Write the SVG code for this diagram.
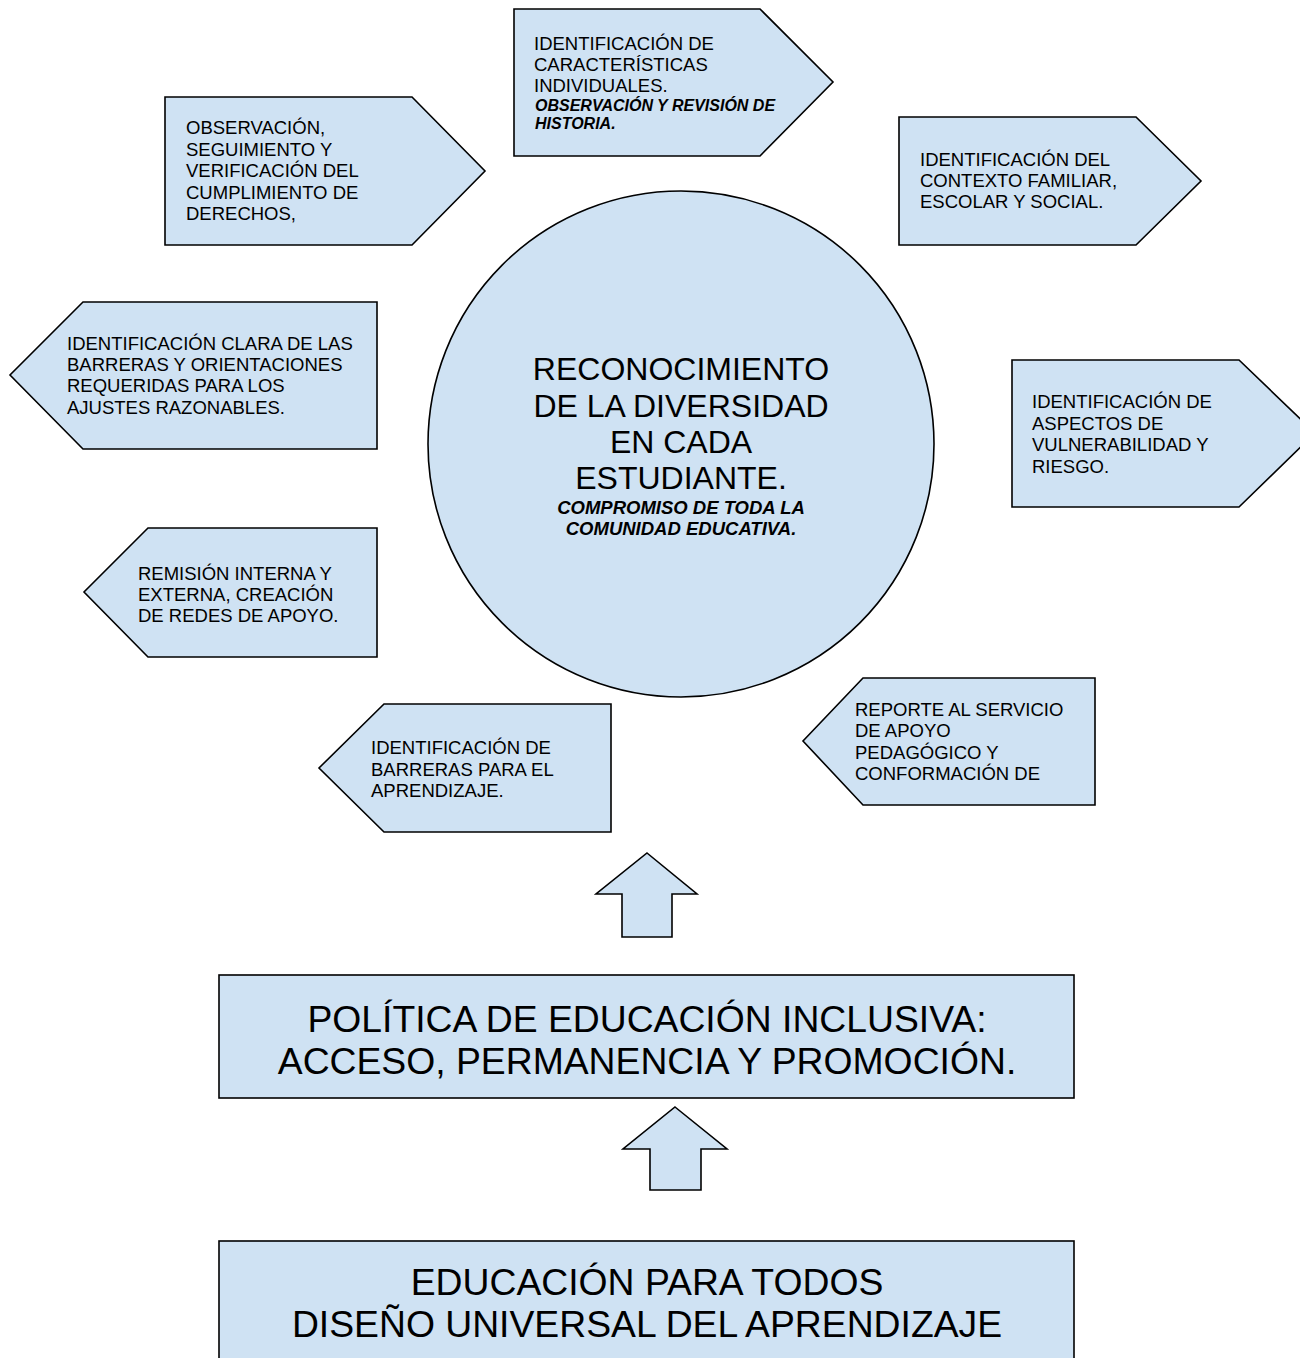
<svg xmlns="http://www.w3.org/2000/svg" width="1300" height="1358" viewBox="0 0 1300 1358">
<style>
.s{fill:#cfe2f3;stroke:#000;stroke-width:1.6;stroke-linejoin:miter}
.t{font-family:"Liberation Sans",Arial,sans-serif;font-size:18.5px;fill:#000}
.bi{font-family:"Liberation Sans",Arial,sans-serif;font-size:16px;font-weight:bold;font-style:italic;fill:#000}
.big{font-family:"Liberation Sans",Arial,sans-serif;font-size:32px;fill:#000;text-anchor:middle}
.bic{font-family:"Liberation Sans",Arial,sans-serif;font-size:18.5px;font-weight:bold;font-style:italic;fill:#000;text-anchor:middle}
.h{font-family:"Liberation Sans",Arial,sans-serif;font-size:37.3px;fill:#000;text-anchor:middle}
</style>
<rect width="1300" height="1358" fill="#fff"/>
<g id="connectors">
<polygon class="s" points="647,853 697,894 672,894 672,937 622,937 622,894 596,894"/>
<polygon class="s" points="675,1107 727,1149 701,1149 701,1190 650,1190 650,1149 623,1149"/>
</g>
<g id="n-circle">
<circle class="s" cx="681" cy="444" r="253"/>
<text class="big" x="681" y="380">RECONOCIMIENTO</text>
<text class="big" x="681" y="417">DE LA DIVERSIDAD</text>
<text class="big" x="681" y="453">EN CADA</text>
<text class="big" x="681" y="489">ESTUDIANTE.</text>
<text class="bic" x="681" y="514">COMPROMISO DE TODA LA</text>
<text class="bic" x="681" y="535">COMUNIDAD EDUCATIVA.</text>
</g>
<g id="n-caracteristicas">
<polygon class="s" points="514,9 760,9 833,82 760,156 514,156"/>
<text class="t" x="534" y="50">IDENTIFICACIÓN DE</text>
<text class="t" x="534" y="71">CARACTERÍSTICAS</text>
<text class="t" x="534" y="92">INDIVIDUALES.</text>
<text class="bi" x="535" y="111">OBSERVACIÓN Y REVISIÓN DE</text>
<text class="bi" x="535" y="129">HISTORIA.</text>
</g>
<g id="n-observacion">
<polygon class="s" points="165,97 412,97 485,171 412,245 165,245"/>
<text class="t" x="186" y="134">OBSERVACIÓN,</text>
<text class="t" x="186" y="156">SEGUIMIENTO Y</text>
<text class="t" x="186" y="177">VERIFICACIÓN DEL</text>
<text class="t" x="186" y="199">CUMPLIMIENTO DE</text>
<text class="t" x="186" y="220">DERECHOS,</text>
</g>
<g id="n-contexto">
<polygon class="s" points="899,117 1136,117 1201,181 1136,245 899,245"/>
<text class="t" x="920" y="166">IDENTIFICACIÓN DEL</text>
<text class="t" x="920" y="187">CONTEXTO FAMILIAR,</text>
<text class="t" x="920" y="208">ESCOLAR Y SOCIAL.</text>
</g>
<g id="n-barreras-orientaciones">
<polygon class="s" points="83,302 377,302 377,449 83,449 10,375"/>
<text class="t" x="67" y="350">IDENTIFICACIÓN CLARA DE LAS</text>
<text class="t" x="67" y="371">BARRERAS Y ORIENTACIONES</text>
<text class="t" x="67" y="392">REQUERIDAS PARA LOS</text>
<text class="t" x="67" y="414">AJUSTES RAZONABLES.</text>
</g>
<g id="n-vulnerabilidad">
<polygon class="s" points="1012,360 1239,360 1315,433 1239,507 1012,507"/>
<text class="t" x="1032" y="408">IDENTIFICACIÓN DE</text>
<text class="t" x="1032" y="430">ASPECTOS DE</text>
<text class="t" x="1032" y="451">VULNERABILIDAD Y</text>
<text class="t" x="1032" y="473">RIESGO.</text>
</g>
<g id="n-remision">
<polygon class="s" points="148,528 377,528 377,657 148,657 84,592"/>
<text class="t" x="138" y="580">REMISIÓN INTERNA Y</text>
<text class="t" x="138" y="601">EXTERNA, CREACIÓN</text>
<text class="t" x="138" y="622">DE REDES DE APOYO.</text>
</g>
<g id="n-barreras-aprendizaje">
<polygon class="s" points="384,704 611,704 611,832 384,832 319,768"/>
<text class="t" x="371" y="754">IDENTIFICACIÓN DE</text>
<text class="t" x="371" y="776">BARRERAS PARA EL</text>
<text class="t" x="371" y="797">APRENDIZAJE.</text>
</g>
<g id="n-reporte">
<polygon class="s" points="863,678 1095,678 1095,805 863,805 803,741"/>
<text class="t" x="855" y="716">REPORTE AL SERVICIO</text>
<text class="t" x="855" y="737">DE APOYO</text>
<text class="t" x="855" y="759">PEDAGÓGICO Y</text>
<text class="t" x="855" y="780">CONFORMACIÓN DE</text>
</g>
<g id="n-politica">
<rect class="s" x="219" y="975" width="855" height="123"/>
<text class="h" x="647" y="1032">POLÍTICA DE EDUCACIÓN INCLUSIVA:</text>
<text class="h" x="647" y="1074">ACCESO, PERMANENCIA Y PROMOCIÓN.</text>
</g>
<g id="n-educacion">
<rect class="s" x="219" y="1241" width="855" height="140"/>
<text class="h" x="647" y="1295">EDUCACIÓN PARA TODOS</text>
<text class="h" x="647" y="1337">DISEÑO UNIVERSAL DEL APRENDIZAJE</text>
</g>
</svg>
